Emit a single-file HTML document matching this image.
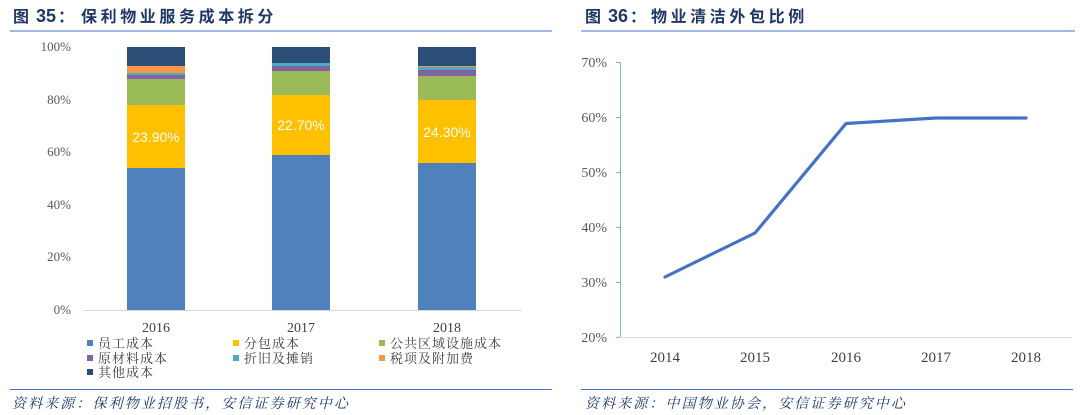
<!DOCTYPE html>
<html><head><meta charset="utf-8"><style>
html,body{margin:0;padding:0;background:#fff;}
svg{display:block;}
.t{font-family:"Liberation Sans","Noto Sans CJK SC",sans-serif;font-weight:bold;fill:#1F3864;}
.tc{font-family:"Noto Sans CJK SC",sans-serif;font-size:16px;font-weight:bold;letter-spacing:3.6px;fill:#1F3864;}
.ax{font-family:"Liberation Serif",serif;fill:#595959;}
.lg{font-family:"Liberation Serif","Noto Serif CJK SC",serif;font-size:13px;letter-spacing:1px;fill:#404040;}
.src{font-family:"Noto Serif CJK SC",serif;font-size:14px;font-style:italic;letter-spacing:2.1px;fill:#1F3864;}
.dl{font-family:"Liberation Sans",sans-serif;font-size:14px;fill:#fff;}
</style></head><body>
<svg width="1080" height="415" viewBox="0 0 1080 415" xmlns="http://www.w3.org/2000/svg">
<!-- Titles -->
<text x="13" y="22" class="tc" style="letter-spacing:0">图</text>
<text x="36" y="22" class="t" font-size="18">35</text>
<text x="58" y="22" class="tc" style="letter-spacing:0">：</text>
<text x="81" y="22" class="tc">保利物业服务成本拆分</text>
<line x1="10" y1="31" x2="552" y2="31" stroke="#4472C4" stroke-width="1"/>

<text x="585" y="22" class="tc" style="letter-spacing:0">图</text>
<text x="608" y="22" class="t" font-size="18">36</text>
<text x="630" y="22" class="tc" style="letter-spacing:0">：</text>
<text x="651" y="22" class="tc">物业清洁外包比例</text>
<line x1="581" y1="31" x2="1075" y2="31" stroke="#4472C4" stroke-width="1"/>

<!-- Left chart -->
<g class="ax" font-size="13" text-anchor="end">
<text x="71" y="51">100%</text>
<text x="71" y="104">80%</text>
<text x="71" y="156">60%</text>
<text x="71" y="209">40%</text>
<text x="71" y="261">20%</text>
<text x="71" y="314">0%</text>
</g>
<line x1="83" y1="310.5" x2="522" y2="310.5" stroke="#D9D9D9" stroke-width="1"/>

<!-- Bar 2016 -->
<g>
<rect x="127" y="168" width="58" height="142" fill="#4F81BD"/>
<rect x="127" y="105" width="58" height="63" fill="#FFC000"/>
<rect x="127" y="79" width="58" height="26" fill="#9BBB59"/>
<rect x="127" y="75" width="58" height="4" fill="#8064A2"/>
<rect x="127" y="73" width="58" height="2" fill="#4BACC6"/>
<rect x="127" y="66" width="58" height="7" fill="#F79646"/>
<rect x="127" y="47" width="58" height="19" fill="#2C4D75"/>
<text x="156" y="142" class="dl" text-anchor="middle">23.90%</text>
</g>
<!-- Bar 2017 -->
<g>
<rect x="272" y="155" width="58" height="155" fill="#4F81BD"/>
<rect x="272" y="95" width="58" height="60" fill="#FFC000"/>
<rect x="272" y="71" width="58" height="24" fill="#9BBB59"/>
<rect x="272" y="66" width="58" height="5" fill="#8064A2"/>
<rect x="272" y="63" width="58" height="3" fill="#4BACC6"/>
<rect x="272" y="47" width="58" height="16" fill="#2C4D75"/>
<text x="301" y="130" class="dl" text-anchor="middle">22.70%</text>
</g>
<!-- Bar 2018 -->
<g>
<rect x="418" y="163" width="58" height="147" fill="#4F81BD"/>
<rect x="418" y="100" width="58" height="63" fill="#FFC000"/>
<rect x="418" y="76" width="58" height="24" fill="#9BBB59"/>
<rect x="418" y="70" width="58" height="6" fill="#8064A2"/>
<rect x="418" y="67" width="58" height="3" fill="#4BACC6"/>
<rect x="418" y="66" width="58" height="1" fill="#F79646"/>
<rect x="418" y="47" width="58" height="19" fill="#2C4D75"/>
<text x="447" y="137" class="dl" text-anchor="middle">24.30%</text>
</g>

<g class="ax" font-size="14" text-anchor="middle" style="fill:#404040">
<text x="156" y="332">2016</text>
<text x="301" y="332">2017</text>
<text x="447" y="332">2018</text>
</g>

<!-- Legend -->
<rect x="87" y="340" width="6" height="6" fill="#4F81BD"/>
<text x="98" y="348" class="lg">员工成本</text>
<rect x="233" y="340" width="6" height="6" fill="#FFC000"/>
<text x="244" y="348" class="lg">分包成本</text>
<rect x="379" y="340" width="6" height="6" fill="#9BBB59"/>
<text x="390" y="348" class="lg">公共区域设施成本</text>
<rect x="87" y="355" width="6" height="6" fill="#8064A2"/>
<text x="98" y="363" class="lg">原材料成本</text>
<rect x="233" y="355" width="6" height="6" fill="#4BACC6"/>
<text x="244" y="363" class="lg">折旧及摊销</text>
<rect x="379" y="355" width="6" height="6" fill="#F79646"/>
<text x="390" y="363" class="lg">税项及附加费</text>
<rect x="87" y="369" width="6" height="6" fill="#2C4D75"/>
<text x="98" y="377" class="lg">其他成本</text>

<line x1="10" y1="389.5" x2="552" y2="389.5" stroke="#4472C4" stroke-width="1"/>
<text x="12" y="408" class="src">资料来源：保利物业招股书，安信证券研究中心</text>

<!-- Right chart -->
<g class="ax" font-size="14" text-anchor="end">
<text x="607" y="67">70%</text>
<text x="607" y="122">60%</text>
<text x="607" y="177">50%</text>
<text x="607" y="232">40%</text>
<text x="607" y="287">30%</text>
<text x="607" y="342">20%</text>
</g>
<line x1="620.5" y1="62" x2="620.5" y2="337" stroke="#8EA9DB" stroke-width="1"/>
<g stroke="#8EA9DB" stroke-width="1">
<line x1="616" y1="62.5" x2="620" y2="62.5"/>
<line x1="616" y1="117.5" x2="620" y2="117.5"/>
<line x1="616" y1="172.5" x2="620" y2="172.5"/>
<line x1="616" y1="227.5" x2="620" y2="227.5"/>
<line x1="616" y1="282.5" x2="620" y2="282.5"/>
<line x1="616" y1="337.5" x2="620" y2="337.5"/>
</g>
<line x1="621" y1="337.5" x2="1072" y2="337.5" stroke="#D9D9D9" stroke-width="1"/>
<polyline points="665,277 755,233 846,123.5 936,118 1026,118" fill="none" stroke="#4472C4" stroke-width="3.2" stroke-linejoin="round" stroke-linecap="round"/>
<g class="ax" font-size="15" text-anchor="middle" style="fill:#404040">
<text x="665" y="362">2014</text>
<text x="755" y="362">2015</text>
<text x="846" y="362">2016</text>
<text x="936" y="362">2017</text>
<text x="1026" y="362">2018</text>
</g>

<line x1="581" y1="389.5" x2="1073" y2="389.5" stroke="#4472C4" stroke-width="1"/>
<text x="585" y="408" class="src">资料来源：中国物业协会，安信证券研究中心</text>
</svg>
</body></html>
